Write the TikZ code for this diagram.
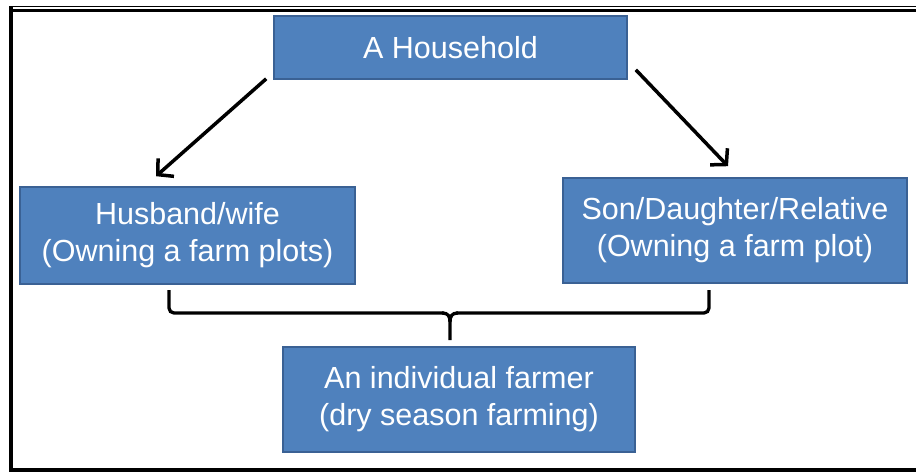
\documentclass[tikz,border=0pt]{standalone}
\usepackage{fontspec}
\setmainfont{Liberation Sans}
\usetikzlibrary{arrows.meta}
\definecolor{boxfill}{HTML}{4F81BD}
\definecolor{boxedge}{HTML}{3A6194}
\tikzset{
  unitbox/.style={draw=boxedge, line width=1.6pt, fill=boxfill, text=white,
    font=\fontsize{30.5}{37}\selectfont, align=center, inner sep=0pt},
  arr/.style={line width=3.5pt, -{Straight Barb[length=11pt,width=24pt,line width=3.5pt]}},
  brace/.style={line width=3.3pt, rounded corners=5pt}
}
\begin{document}
\begin{tikzpicture}[x=1pt,y=-1pt]
\useasboundingbox (0,0) rectangle (916,472);
% outer frame
\fill[black] (9,5.5) rectangle (916,6.8);
\fill[black] (13,9.3) rectangle (916,11.8);
\fill[black] (8.7,5.5) rectangle (12.7,472);
\fill[black] (8.7,467.5) rectangle (916,472);

% boxes
\node[unitbox, minimum width=353pt, minimum height=63pt] (hh) at (450.5,47.5) {A Household};
\node[unitbox, minimum width=335pt, minimum height=97pt] (hw) at (187.5,235.5)
  {Husband/wife\\(Owning a farm plots)};
\node[unitbox, minimum width=344pt, minimum height=105pt] (sd) at (735,230.5)
  {Son/Daughter/Relative\\(Owning a farm plot)};
\node[unitbox, minimum width=352pt, minimum height=105pt] (fa) at (459,399.5)
  {An individual farmer\\(dry season farming)};

% arrows from the household
\draw[arr] ([xshift=-7pt,yshift=1pt]hh.south west) -- ([xshift=-31.5pt,yshift=10pt]hw.north);
\draw[arr] ([xshift=8pt,yshift=10pt]hh.south east) -- ([xshift=-7pt,yshift=11pt]sd.north);

% brace joining both owners into one farmer
\coordinate (bl) at (169,290);
\coordinate (br) at (709,290);
\coordinate (bm) at (450,340);
\draw[brace] (bl) -- (169,313) -- (444,313);
\draw[brace] (br) -- (709,313) -- (456,313);
\draw[line width=3.3pt] (442,313) .. controls (448,313) and (450,316) .. (450,322) -- (bm);
\draw[line width=3.3pt] (458,313) .. controls (452,313) and (450,316) .. (450,322);
\end{tikzpicture}
\end{document}
